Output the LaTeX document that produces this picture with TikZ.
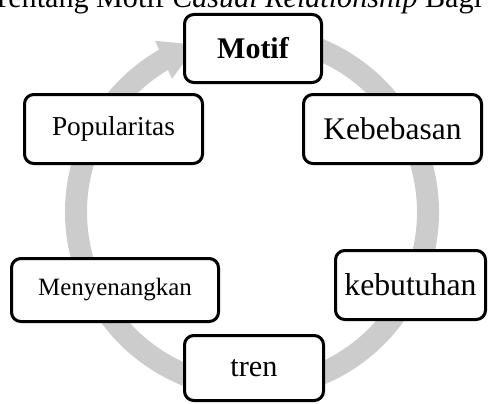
\documentclass[tikz,border=0pt]{standalone}
\usepackage{fontspec}
\setmainfont{Liberation Serif}
\usetikzlibrary{arrows.meta,bending}
\definecolor{ringgray}{RGB}{204,204,204}
\tikzset{
  box/.style={draw, fill=white, line width=2.25pt, rounded corners=7pt, inner sep=0pt},
  fs/.style={font=\fontsize{#1}{#1}\selectfont}
}
\begin{document}
\begin{tikzpicture}[x=0.75pt,y=-0.75pt]
\useasboundingbox (0,0) rectangle (488,403);

\node[anchor=base, fs=22.6] (title) at (237,8) {Tentang Motif \textit{Casual Relationship} Bagi};

\draw[ringgray, line width=16.5pt, -{Triangle[length=28pt,width=29pt,flex]}]
  (252,212) ++(-95:176) arc[start angle=-95, end angle=252, radius=176];

\node[box, fs=22.5, minimum width=102.75pt, minimum height=51pt] (motif) at (253,48.5) {\bfseries Motif};
\node[box, fs=20.5, minimum width=133.5pt, minimum height=51.75pt] (popularitas) at (113.5,129) {Popularitas};
\node[box, fs=23.6, minimum width=133.5pt, minimum height=51.75pt] (kebebasan) at (392.5,129) {Kebebasan};
\node[box, fs=18.7, minimum width=155.25pt, minimum height=47.25pt] (menyenangkan) at (115,290) {Menyenangkan};
\node[box, fs=23.8, minimum width=112.5pt, minimum height=51.75pt] (kebutuhan) at (410.5,285) {kebutuhan};
\node[box, fs=22.7, minimum width=104.25pt, minimum height=48.75pt] (tren) at (254,368) {tren};

\end{tikzpicture}
\end{document}
